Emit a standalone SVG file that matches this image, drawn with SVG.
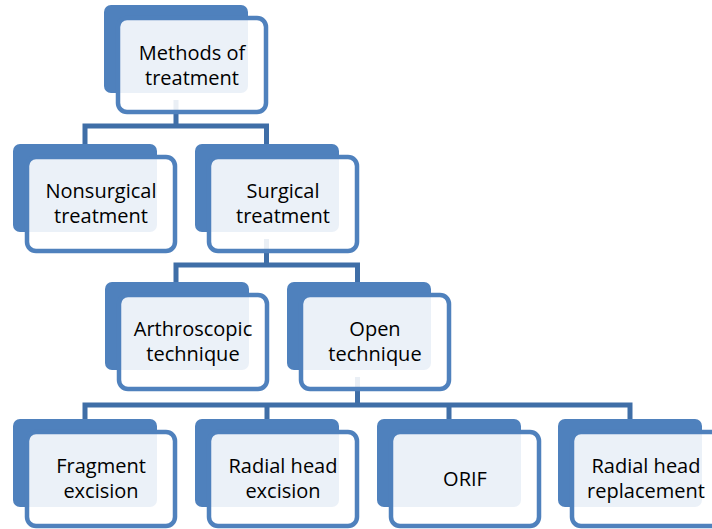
<svg xmlns="http://www.w3.org/2000/svg" width="712" height="529" viewBox="0 0 712 529">
<style>
.bk{fill:#4F81BD}
.fr{fill:#FFFFFF;fill-opacity:0.89;stroke:#4F81BD;stroke-width:4.5}
.cn{fill:none;stroke:#3F6EA7;stroke-width:5}
text{font-family:"Open Sans","Liberation Sans",sans-serif;font-size:20px;fill:#000;text-anchor:middle}
</style>
<rect width="712" height="529" fill="#FFFFFF"/>
<g id="connectors">
<path class="cn" d="M176 100V126M85 145V126H266.5V145"/>
<path class="cn" d="M266.5 239V265M176 283V265H357.5V283"/>
<path class="cn" d="M357.5 377V405M85 420V405H630V420M267 405V420M449 405V420"/>
</g>
<g id="n-methods">
<rect class="bk" x="104" y="5" width="144" height="88" rx="7"/>
<rect class="fr" x="118" y="18" width="148" height="94" rx="9"/>
<text x="192" y="60">Methods of</text><text x="192" y="85">treatment</text>
</g>
<g id="n-nonsurgical">
<rect class="bk" x="13" y="144" width="144" height="88" rx="7"/>
<rect class="fr" x="27" y="157" width="148" height="94" rx="9"/>
<text x="101" y="198">Nonsurgical</text><text x="101" y="223">treatment</text>
</g>
<g id="n-surgical">
<rect class="bk" x="195" y="144" width="144" height="88" rx="7"/>
<rect class="fr" x="209" y="157" width="148" height="94" rx="9"/>
<text x="283" y="198">Surgical</text><text x="283" y="223">treatment</text>
</g>
<g id="n-arthroscopic">
<rect class="bk" x="105" y="282" width="144" height="88" rx="7"/>
<rect class="fr" x="119" y="295" width="148" height="94" rx="9"/>
<text x="193" y="336">Arthroscopic</text><text x="193" y="361">technique</text>
</g>
<g id="n-open">
<rect class="bk" x="287" y="282" width="144" height="88" rx="7"/>
<rect class="fr" x="301" y="295" width="148" height="94" rx="9"/>
<text x="375" y="336">Open</text><text x="375" y="361">technique</text>
</g>
<g id="n-fragment">
<rect class="bk" x="13" y="419" width="144" height="88" rx="7"/>
<rect class="fr" x="27" y="432" width="148" height="94" rx="9"/>
<text x="101" y="473">Fragment</text><text x="101" y="498">excision</text>
</g>
<g id="n-rhexcision">
<rect class="bk" x="195" y="419" width="144" height="88" rx="7"/>
<rect class="fr" x="209" y="432" width="148" height="94" rx="9"/>
<text x="283" y="473">Radial head</text><text x="283" y="498">excision</text>
</g>
<g id="n-orif">
<rect class="bk" x="377" y="419" width="144" height="88" rx="7"/>
<rect class="fr" x="391" y="432" width="148" height="94" rx="9"/>
<text x="465" y="486">ORIF</text>
</g>
<g id="n-rhreplacement">
<rect class="bk" x="558" y="419" width="144" height="88" rx="7"/>
<rect class="fr" x="572" y="432" width="148" height="94" rx="9"/>
<text x="646" y="473">Radial head</text><text x="646" y="498">replacement</text>
</g>
</svg>
